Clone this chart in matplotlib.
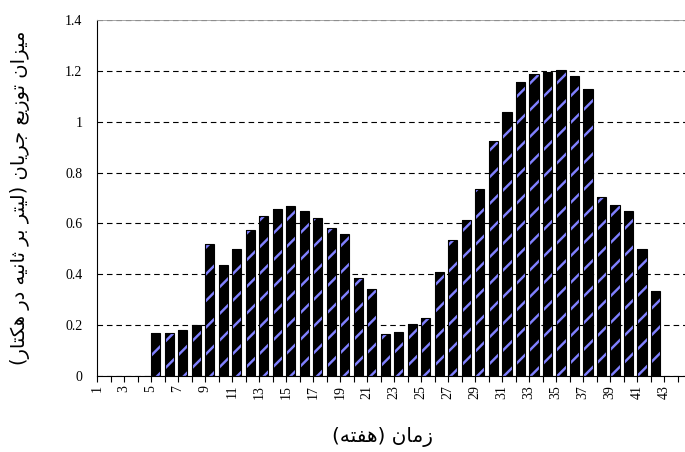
import matplotlib
matplotlib.use("Agg")
import matplotlib.pyplot as plt

# weekly flow distribution (lit/s per hectare), weeks 5..42 carry values
weeks = list(range(5, 43))
flow = [0.17, 0.17, 0.18, 0.20, 0.52, 0.435, 0.50, 0.575, 0.63, 0.655,
        0.67, 0.648, 0.622, 0.582, 0.557, 0.386, 0.344, 0.165, 0.173, 0.205,
        0.23, 0.41, 0.533, 0.614, 0.737, 0.925, 1.04, 1.155, 1.186, 1.195,
        1.203, 1.178, 1.13, 0.705, 0.671, 0.647, 0.50, 0.336]
xtick_labels = [str(k) for k in range(1, 44, 2)]
ytick_vals = [0, 0.2, 0.4, 0.6, 0.8, 1.0, 1.2, 1.4]
ytick_labels = ["0", "0.2", "0.4", "0.6", "0.8", "1", "1.2", "1.4"]
xlabel_fa = "زمان (هفته)"
ylabel_fa = "میزان توزیع جریان (لیتر بر ثانیه در هکتار)"

# arabic presentation forms: isolated, final, initial, medial
FORMS = {
    'ا': ('\uFE8D', '\uFE8E', None, None),
    'ب': ('\uFE8F', '\uFE90', '\uFE91', '\uFE92'),
    'ت': ('\uFE95', '\uFE96', '\uFE97', '\uFE98'),
    'ث': ('\uFE99', '\uFE9A', '\uFE9B', '\uFE9C'),
    'ج': ('\uFE9D', '\uFE9E', '\uFE9F', '\uFEA0'),
    'د': ('\uFEA9', '\uFEAA', None, None),
    'ر': ('\uFEAD', '\uFEAE', None, None),
    'ز': ('\uFEAF', '\uFEB0', None, None),
    'ع': ('\uFEC9', '\uFECA', '\uFECB', '\uFECC'),
    'ف': ('\uFED1', '\uFED2', '\uFED3', '\uFED4'),
    'ل': ('\uFEDD', '\uFEDE', '\uFEDF', '\uFEE0'),
    'م': ('\uFEE1', '\uFEE2', '\uFEE3', '\uFEE4'),
    'ن': ('\uFEE5', '\uFEE6', '\uFEE7', '\uFEE8'),
    'ه': ('\uFEE9', '\uFEEA', '\uFEEB', '\uFEEC'),
    'و': ('\uFEED', '\uFEEE', None, None),
    'ی': ('\uFBFC', '\uFBFD', '\uFBFE', '\uFBFF'),
    'ک': ('\uFB8E', '\uFB8F', '\uFB90', '\uFB91'),
}


def shape(text):
    out = []
    for i, ch in enumerate(text):
        f = FORMS.get(ch)
        if f is None:
            out.append(ch)
            continue
        prev = text[i - 1] if i > 0 else ''
        nxt = text[i + 1] if i < len(text) - 1 else ''
        jp = prev in FORMS and FORMS[prev][2] is not None
        jn = f[2] is not None and nxt in FORMS
        if jp and jn:
            out.append(f[3])
        elif jp:
            out.append(f[1])
        elif jn:
            out.append(f[2])
        else:
            out.append(f[0])
    return ''.join(out)


def rtl(text):
    mirror = {'(': ')', ')': '('}
    return ''.join(mirror.get(c, c) for c in reversed(shape(text)))


plt.rcParams['hatch.linewidth'] = 2.2
fig = plt.figure(figsize=(685 / 80, 452 / 80), dpi=80)
ax = fig.add_axes([97 / 685, 1 - 376 / 452, 1 - 97 / 685, (376 - 20) / 452])

ax.bar(weeks, flow, width=0.7, align='edge', facecolor='black',
       edgecolor='#8080ff', linewidth=0, hatch='/', zorder=2)
ax.bar(weeks, flow, width=0.7, align='edge', facecolor='none',
       edgecolor='black', linewidth=1.0, zorder=3)

ax.set_xlim(1, 44.55)
ax.set_ylim(0, 1.4)
ax.set_xticks(range(1, 44, 2))
ax.set_xticklabels(xtick_labels, rotation=90, fontsize=12.5,
                   family='Liberation Serif')
ax.set_xticks(range(2, 45, 2), minor=True)
ax.tick_params(axis='x', which='both', direction='out', length=5,
               width=1, color='black', pad=3)
ax.set_yticks(ytick_vals)
ax.set_yticklabels(ytick_labels, fontsize=12.5, family='Liberation Serif')
ax.tick_params(axis='y', length=0, pad=13)

ax.set_axisbelow(True)
ax.yaxis.grid(True, color='black', linestyle=(0, (5, 3.5)), linewidth=1.0)
ax.xaxis.grid(False)
for s in ('left', 'bottom'):
    ax.spines[s].set_color('black')
    ax.spines[s].set_linewidth(1.0)
ax.spines['top'].set_color('#a0a0a0')
ax.spines['right'].set_visible(False)

fig.text(383 / 685, 1 - 437 / 452, rtl(xlabel_fa),
         ha='center', va='center', fontsize=18, family=['DejaVu Sans'])
fig.text(20 / 685, 1 - 198 / 452, rtl(ylabel_fa), rotation=90,
         ha='center', va='center', fontsize=17.5, family=['DejaVu Sans'])

fig.savefig('out.png', dpi=80)
